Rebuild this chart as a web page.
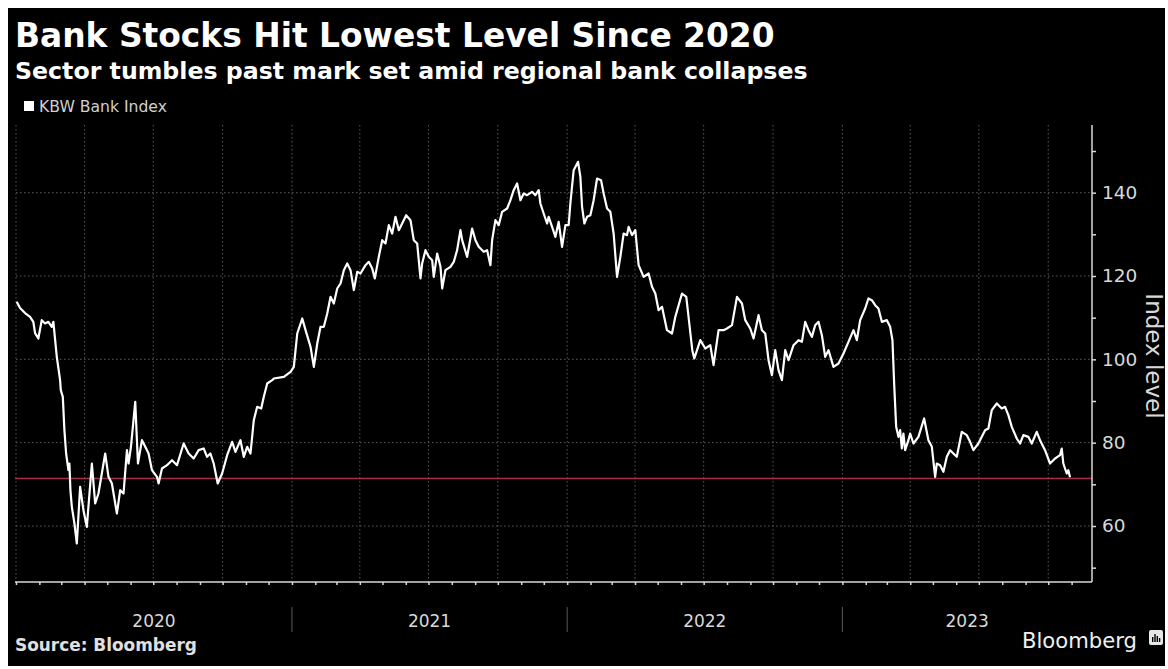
<!DOCTYPE html>
<html>
<head>
<meta charset="utf-8">
<script src="https://cdn.jsdelivr.net/npm/d3@7"></script>
<style>
  body { margin: 0; background: #fff; }
  svg { display: block; }
  text { font-family: "DejaVu Sans", Verdana, sans-serif; }
</style>
</head>
<body>
<div id="chart-container"></div>
<script>
// KBW Bank Index (time as decimal years)
const timeYears = [
  2020.0025, 2020.0145, 2020.0327, 2020.0508, 2020.0628, 2020.069, 2020.081, 2020.0933, 2020.1053, 2020.1173,
  2020.1296, 2020.1354, 2020.1478, 2020.1598, 2020.1623, 2020.1696, 2020.1754, 2020.1816, 2020.1899, 2020.1935,
  2020.1972, 2020.2023, 2020.2117, 2020.2204, 2020.2324, 2020.2444, 2020.2567, 2020.2749, 2020.2869, 2020.2988,
  2020.3232, 2020.3351, 2020.3475, 2020.3656, 2020.3776, 2020.3896, 2020.402, 2020.4078, 2020.4165, 2020.4321,
  2020.4419, 2020.4564, 2020.4684, 2020.4804, 2020.4927, 2020.5109, 2020.5167, 2020.529, 2020.5472, 2020.5654,
  2020.5835, 2020.6075, 2020.6256, 2020.6438, 2020.6619, 2020.6801, 2020.6924, 2020.7044, 2020.7164, 2020.7309,
  2020.7469, 2020.7651, 2020.7832, 2020.7952, 2020.8134, 2020.8253, 2020.8377, 2020.8497, 2020.8617, 2020.874,
  2020.8885, 2020.898, 2020.9103, 2020.9285, 2020.9343, 2020.9706, 2020.9949, 2021.0068, 2021.0192, 2021.0374,
  2021.0494, 2021.0675, 2021.0795, 2021.0919, 2021.1038, 2021.1158, 2021.1282, 2021.1402, 2021.1521, 2021.1645,
  2021.1765, 2021.1885, 2021.2008, 2021.2128, 2021.2248, 2021.2371, 2021.2491, 2021.2672, 2021.2792, 2021.2916,
  2021.301, 2021.3155, 2021.3279, 2021.3399, 2021.3519, 2021.3642, 2021.3762, 2021.3882, 2021.4005, 2021.415,
  2021.4306, 2021.4426, 2021.455, 2021.467, 2021.4731, 2021.4851, 2021.4971, 2021.5094, 2021.5153, 2021.5276,
  2021.5396, 2021.5458, 2021.5577, 2021.5759, 2021.5879, 2021.6002, 2021.6122, 2021.6184, 2021.6365, 2021.6547,
  2021.6667, 2021.6786, 2021.6968, 2021.7091, 2021.7211, 2021.7273, 2021.7393, 2021.7513, 2021.7636, 2021.7818,
  2021.7938, 2021.8057, 2021.8181, 2021.8301, 2021.842, 2021.8544, 2021.8725, 2021.8845, 2021.8965, 2021.9027,
  2021.9146, 2021.927, 2021.9328, 2021.9452, 2021.9572, 2021.9691, 2021.9815, 2021.9935, 2022.0054, 2022.0116,
  2022.0236, 2022.0396, 2022.0479, 2022.0541, 2022.0625, 2022.0723, 2022.0843, 2022.0962, 2022.1086, 2022.1231,
  2022.1325, 2022.1449, 2022.1569, 2022.1688, 2022.1812, 2022.1932, 2022.2052, 2022.2175, 2022.2233, 2022.2357,
  2022.2476, 2022.2596, 2022.2778, 2022.2959, 2022.3083, 2022.3203, 2022.3322, 2022.3446, 2022.3627, 2022.3809,
  2022.3929, 2022.4172, 2022.4328, 2022.4437, 2022.4546, 2022.4619, 2022.4837, 2022.5018, 2022.52, 2022.5319,
  2022.5501, 2022.5683, 2022.5806, 2022.5988, 2022.6169, 2022.6351, 2022.6471, 2022.6652, 2022.6772, 2022.6954,
  2022.7077, 2022.7197, 2022.7317, 2022.744, 2022.756, 2022.768, 2022.7803, 2022.7923, 2022.8043, 2022.8224,
  2022.8406, 2022.8529, 2022.8649, 2022.8769, 2022.8892, 2022.9012, 2022.9132, 2022.9255, 2022.9375, 2022.9495,
  2022.9676, 2022.9858, 2023.004, 2023.0221, 2023.0403, 2023.0526, 2023.0646, 2023.0828, 2023.0947, 2023.1071,
  2023.1191, 2023.131, 2023.1434, 2023.1616, 2023.1735, 2023.1819, 2023.1881, 2023.1954, 2023.2037, 2023.2099,
  2023.216, 2023.2218, 2023.228, 2023.24, 2023.2462, 2023.2582, 2023.2763, 2023.297, 2023.3126, 2023.325,
  2023.337, 2023.3431, 2023.3551, 2023.3671, 2023.3794, 2023.3914, 2023.4034, 2023.4157, 2023.4339, 2023.4521,
  2023.4641, 2023.476, 2023.4942, 2023.5065, 2023.5185, 2023.5305, 2023.5428, 2023.561, 2023.5791, 2023.5911,
  2023.6031, 2023.6155, 2023.6336, 2023.6456, 2023.6576, 2023.6757, 2023.6881, 2023.7062, 2023.7182, 2023.7364,
  2023.7545, 2023.7727, 2023.7908, 2023.797, 2023.8028, 2023.8152, 2023.821, 2023.8272
];
const indexValues = [
  113.8, 112.3, 111.1, 110.2, 109.0, 106.3, 105.0, 109.4, 108.6, 109.0,
  107.8, 109.0, 100.6, 95.0, 92.6, 91.0, 83.0, 77.4, 73.4, 75.0,
  68.6, 64.6, 60.6, 55.8, 69.4, 63.8, 59.8, 75.0, 65.4, 67.8,
  77.4, 71.8, 70.2, 63.0, 68.6, 67.8, 78.2, 75.0, 79.0, 89.8,
  75.0, 80.6, 79.0, 77.4, 73.4, 71.8, 70.2, 73.8, 74.6, 75.8,
  74.6, 79.8, 77.4, 76.2, 78.2, 78.6, 76.6, 77.4, 75.0, 70.2,
  72.6, 77.0, 80.2, 77.8, 80.6, 76.6, 79.0, 77.4, 85.4, 88.6,
  88.2, 91.0, 94.2, 95.0, 95.4, 95.8, 97.0, 98.2, 106.2, 109.8,
  107.0, 103.0, 98.2, 103.8, 107.8, 107.8, 111.0, 115.0, 113.4, 117.0,
  118.2, 121.4, 123.0, 121.4, 116.6, 121.0, 120.6, 122.6, 123.4, 121.8,
  119.4, 124.6, 128.6, 127.8, 132.2, 130.2, 134.2, 131.0, 132.6, 134.6,
  133.4, 128.6, 127.8, 119.4, 123.0, 126.2, 124.6, 123.8, 119.8, 125.4,
  122.2, 117.0, 121.4, 122.2, 123.4, 126.2, 131.0, 128.6, 124.6, 131.4,
  128.6, 127.0, 125.8, 126.2, 122.6, 128.6, 133.4, 132.2, 135.4, 136.2,
  138.2, 140.6, 142.2, 138.2, 139.8, 139.4, 140.2, 139.4, 140.6, 137.4,
  135.0, 132.6, 134.2, 131.8, 129.4, 133.0, 127.0, 132.2, 132.2, 137.4,
  145.4, 147.4, 143.8, 136.6, 132.6, 134.2, 134.6, 138.2, 143.4, 143.0,
  139.8, 136.2, 135.4, 130.2, 119.8, 124.6, 130.2, 129.8, 131.8, 129.8,
  131.0, 122.6, 119.8, 120.6, 117.4, 115.8, 111.8, 112.6, 107.0, 106.2,
  110.2, 115.8, 115.0, 108.6, 102.2, 100.2, 104.6, 102.6, 103.4, 98.6,
  107.0, 107.0, 107.4, 108.2, 115.0, 113.4, 109.4, 107.4, 105.0, 110.6,
  107.0, 106.2, 99.8, 96.2, 102.2, 97.4, 95.0, 102.2, 99.8, 103.4,
  104.6, 104.2, 109.0, 107.0, 105.4, 108.2, 109.0, 105.8, 100.6, 102.2,
  98.2, 99.0, 101.4, 104.2, 107.0, 104.6, 109.4, 112.2, 114.6, 114.2,
  113.0, 112.2, 109.0, 109.4, 107.8, 104.6, 94.2, 83.8, 81.4, 83.0,
  78.6, 82.2, 78.2, 80.6, 82.2, 79.8, 81.4, 85.8, 80.6, 79.0,
  71.8, 75.0, 74.6, 73.0, 76.6, 78.2, 77.4, 76.6, 82.6, 81.8,
  80.2, 78.2, 79.8, 81.4, 83.0, 83.4, 87.8, 89.4, 88.2, 88.6,
  86.6, 83.8, 81.0, 79.8, 81.8, 81.4, 79.8, 82.6, 80.6, 78.2,
  75.0, 76.2, 77.0, 78.6, 75.0, 72.6, 73.4, 71.7
];
const yTicks = [60, 80, 100, 120, 140];
const yMinorTicks = [50, 70, 90, 110, 130, 150];
const yearLabels = ["2020", "2021", "2022", "2023"];
const markLevel = 71.4;
const axisStart = 2020.0;
const axisEnd = 2023.907;

const W = 1168;
const H = 669;
const plot = { left: 16, right: 1092, top: 125, bottom: 582 };

function decYearToDate(t) {
  const yr = Math.floor(t);
  const start = new Date(yr, 0, 1);
  const end = new Date(yr + 1, 0, 1);
  return new Date(+start + (t - yr) * (end - start));
}

const data = timeYears.map((t, i) => ({ date: decYearToDate(t), value: indexValues[i] }));

const xScale = d3
  .scaleTime()
  .domain([decYearToDate(axisStart), decYearToDate(axisEnd)])
  .range([plot.left, plot.right]);
const yScale = d3
  .scaleLinear()
  .domain([46.56, 156.24])
  .range([plot.bottom, plot.top]);

const svg = d3
  .select("#chart-container")
  .append("svg")
  .attr("width", W)
  .attr("height", H);

// black card with thin white margin
svg
  .append("rect")
  .attr("x", 8)
  .attr("y", 8)
  .attr("width", 1157)
  .attr("height", 658)
  .attr("fill", "#000");

// fit a text element to a target width by adjusting font size
function fitText(sel, width) {
  const fs = parseFloat(sel.attr("font-size"));
  const w = sel.node().getComputedTextLength();
  sel.attr("font-size", (fs * width) / w);
}

svg
  .append("text")
  .attr("x", 15)
  .attr("y", 47)
  .attr("font-size", 31)
  .attr("font-weight", "bold")
  .attr("fill", "#fff")
  .text("Bank Stocks Hit Lowest Level Since 2020")
  .call(fitText, 760);

svg
  .append("text")
  .attr("x", 15)
  .attr("y", 79)
  .attr("font-size", 21)
  .attr("font-weight", "bold")
  .attr("fill", "#fff")
  .text("Sector tumbles past mark set amid regional bank collapses")
  .call(fitText, 793);

// legend
svg
  .append("rect")
  .attr("x", 24)
  .attr("y", 101)
  .attr("width", 10)
  .attr("height", 10)
  .attr("fill", "#fff");
svg
  .append("text")
  .attr("x", 39)
  .attr("y", 112)
  .attr("font-size", 14)
  .attr("fill", "#d0d0d0")
  .text("KBW Bank Index")
  .call(fitText, 128);

// grid
const grid = svg.append("g").attr("class", "grid");
grid
  .selectAll(".hgrid")
  .data(yTicks)
  .enter()
  .append("line")
  .attr("x1", plot.left)
  .attr("x2", plot.right)
  .attr("y1", d => yScale(d))
  .attr("y2", d => yScale(d))
  .attr("stroke", "#5a5a5a")
  .attr("stroke-width", 1)
  .attr("stroke-dasharray", "1.5,2.5");

const quarters = d3.timeMonth.every(3).range(xScale.domain()[0], xScale.domain()[1]);
grid
  .selectAll(".vgrid")
  .data(quarters)
  .enter()
  .append("line")
  .attr("x1", d => xScale(d))
  .attr("x2", d => xScale(d))
  .attr("y1", plot.top)
  .attr("y2", plot.bottom)
  .attr("stroke", "#5a5a5a")
  .attr("stroke-width", 1)
  .attr("stroke-dasharray", "1.5,2.5");

// mark set amid regional bank collapses
svg
  .append("line")
  .attr("x1", plot.left - 1)
  .attr("x2", plot.right)
  .attr("y1", yScale(markLevel))
  .attr("y2", yScale(markLevel))
  .attr("stroke", "#a3304a")
  .attr("stroke-width", 1.5);

// index line
const line = d3
  .line()
  .x(d => xScale(d.date))
  .y(d => yScale(d.value));

svg
  .append("path")
  .datum(data)
  .attr("fill", "none")
  .attr("stroke", "#fff")
  .attr("stroke-width", 2.2)
  .attr("stroke-linejoin", "round")
  .attr("d", line);

// right axis
const yAxisG = svg
  .append("g")
  .attr("transform", `translate(${plot.right},0)`)
  .call(
    d3
      .axisRight(yScale)
      .tickValues(yTicks)
      .tickSize(4)
      .tickPadding(6)
  );
yAxisG
  .append("g")
  .call(
    d3
      .axisRight(yScale)
      .tickValues(yMinorTicks)
      .tickSize(4)
      .tickFormat("")
  )
  .select(".domain")
  .remove();
yAxisG.selectAll(".domain").attr("d", `M0,${plot.top}V${plot.bottom}`);
yAxisG.selectAll("path, line").attr("stroke", "#d8d8d8").attr("stroke-width", 1.5);
yAxisG
  .selectAll("text")
  .attr("fill", "#d8d8d8")
  .attr("font-size", 18.5)
  .attr("font-family", "DejaVu Sans, sans-serif");

svg
  .append("text")
  .attr("transform", "translate(1146,356) rotate(90)")
  .attr("text-anchor", "middle")
  .attr("font-size", 23)
  .attr("fill", "#d8d8d8")
  .text("Index level");

// bottom axis
const xAxisG = svg
  .append("g")
  .attr("transform", `translate(0,${plot.bottom})`)
  .call(
    d3
      .axisBottom(xScale)
      .ticks(d3.timeMonth.every(1))
      .tickSize(3)
      .tickFormat("")
  );
xAxisG.select(".domain").attr("d", `M${plot.left - 1},0H${plot.right}`);
xAxisG.selectAll("path, line").attr("stroke", "#d8d8d8").attr("stroke-width", 1.5);

// year separators and labels
const yearStarts = yearLabels.map(y => new Date(+y, 0, 1));
svg
  .selectAll(".year-sep")
  .data(yearStarts.slice(1))
  .enter()
  .append("line")
  .attr("x1", d => xScale(d))
  .attr("x2", d => xScale(d))
  .attr("y1", 607)
  .attr("y2", 632)
  .attr("stroke", "#5a5a5a")
  .attr("stroke-width", 1);

const [d0, d1] = xScale.domain();
svg
  .selectAll(".year-label")
  .data(yearLabels)
  .enter()
  .append("text")
  .attr("x", d => {
    const a = Math.max(+new Date(+d, 0, 1), +d0);
    const b = Math.min(+new Date(+d + 1, 0, 1), +d1);
    return (xScale(new Date(a)) + xScale(new Date(b))) / 2;
  })
  .attr("y", 627)
  .attr("text-anchor", "middle")
  .attr("font-size", 17)
  .attr("fill", "#d8d8d8")
  .text(d => d);

// footer
svg
  .append("text")
  .attr("x", 15)
  .attr("y", 651)
  .attr("font-size", 15)
  .attr("font-weight", "bold")
  .attr("fill", "#e0e0e0")
  .text("Source: Bloomberg")
  .call(fitText, 182);

svg
  .append("text")
  .attr("x", 1022)
  .attr("y", 648)
  .attr("font-size", 20)
  .attr("fill", "#f0f0f0")
  .attr("font-family", "Roboto, sans-serif")
  .text("Bloomberg")
  .call(fitText, 115);

// small logo glyph
const logo = svg.append("g").attr("transform", "translate(1149,630)");
logo
  .append("rect")
  .attr("width", 14)
  .attr("height", 15)
  .attr("rx", 2)
  .attr("fill", "#e8e8e8");
logo
  .selectAll(".bar")
  .data([5, 8, 6, 4])
  .enter()
  .append("rect")
  .attr("x", (d, i) => 3 + i * 2.3)
  .attr("y", d => 12 - d)
  .attr("width", 1.4)
  .attr("height", d => d)
  .attr("fill", "#000");
</script>
</body>
</html>
